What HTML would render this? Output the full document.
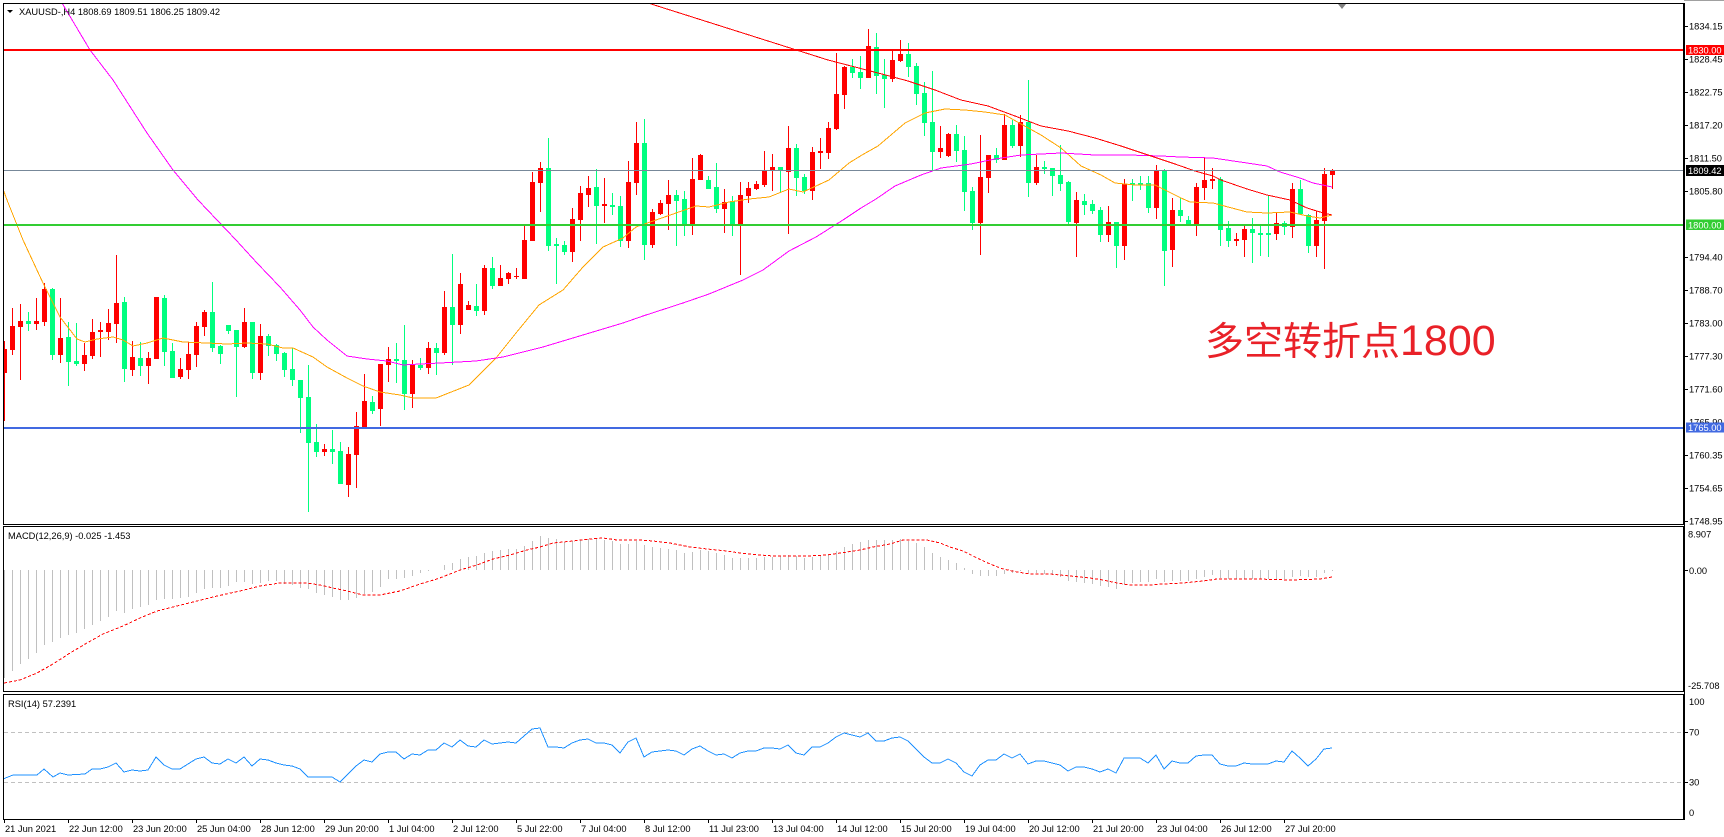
<!DOCTYPE html>
<html><head><meta charset="utf-8"><style>
html,body{margin:0;padding:0;background:#fff;}
svg{display:block;}
.t{font-family:"Liberation Sans","DejaVu Sans",sans-serif;font-size:9.3px;fill:#000;}
.w{font-family:"Liberation Sans","DejaVu Sans",sans-serif;font-size:9.3px;fill:#fff;}
</style></head><body>
<svg width="1724" height="837" viewBox="0 0 1724 837" xmlns="http://www.w3.org/2000/svg">
<defs>
<clipPath id="cm"><rect x="4" y="4" width="1680" height="520"/></clipPath>
<clipPath id="cd"><rect x="4" y="527" width="1680" height="165"/></clipPath>
<clipPath id="cr"><rect x="4" y="695" width="1680" height="125"/></clipPath>
</defs>
<rect width="1724" height="837" fill="#fff"/>
<line x1="1684" y1="0.5" x2="1724" y2="0.5" stroke="#a0a0a0"/>

<g clip-path="url(#cm)" shape-rendering="crispEdges">
<!-- red candles -->
<path fill="none" stroke="#ff0000" stroke-width="1" d="M4.5 341V421M12.5 308V355M20.5 304V380M36.5 298V330M44.5 283V326M60.5 298V363M84.5 343V371M92.5 319V359M100.5 322V357M108.5 309V340M116.5 255V343M132.5 341V376M148.5 352V384M156.5 297V359M180.5 358V379M188.5 342V379M196.5 322V367M204.5 310V336M244.5 308V348M260.5 324V380M324.5 444V456M348.5 447V497M356.5 412V488M364.5 374V428M380.5 364V426M388.5 347V382M412.5 360V408M428.5 342V374M444.5 291V355M460.5 273V334M468.5 301V310M484.5 265V315M500.5 265V286M508.5 272V284M516.5 268V279M524.5 226V279M532.5 172V241M540.5 162V212M572.5 208V262M580.5 186V241M588.5 176V207M604.5 178V223M628.5 161V248M636.5 122V195M652.5 209V248M660.5 200V215M668.5 180V230M692.5 158V235M700.5 154V180M724.5 189V233M740.5 182V275M748.5 182V203M756.5 181V190M764.5 151V187M772.5 154V191M788.5 126V234M812.5 147V200M820.5 138V169M828.5 122V159M836.5 53V130M844.5 66V109M868.5 29V78M892.5 51V82M900.5 40V62M940.5 126V158M948.5 133V157M980.5 135V255M988.5 155V193M1004.5 114V160M1020.5 115V157M1036.5 155V185M1076.5 192V257M1108.5 206V242M1124.5 179V260M1156.5 165V219M1172.5 198V267M1196.5 183V236M1204.5 158V200M1212.5 168V189M1236.5 233V246M1244.5 226V257M1276.5 212V240M1292.5 183V238M1316.5 211V257M1324.5 168V269M1332.5 169V189"/>
<path fill="#ff0000" d="M2 349h5v24h-5zM10 326h5v24h-5zM18 321h5v6h-5zM34 321h5v3h-5zM42 289h5v33h-5zM58 338h5v17h-5zM82 355h5v9h-5zM90 332h5v24h-5zM98 330h5v2h-5zM106 323h5v9h-5zM114 303h5v21h-5zM130 357h5v13h-5zM146 358h5v8h-5zM154 297h5v62h-5zM178 369h5v8h-5zM186 354h5v16h-5zM194 326h5v29h-5zM202 312h5v15h-5zM242 322h5v25h-5zM258 336h5v37h-5zM322 449h5v3h-5zM346 454h5v31h-5zM354 426h5v29h-5zM362 401h5v26h-5zM378 364h5v45h-5zM386 359h5v6h-5zM410 364h5v30h-5zM426 348h5v20h-5zM442 307h5v46h-5zM458 284h5v41h-5zM466 305h5v5h-5zM482 268h5v43h-5zM498 278h5v8h-5zM506 273h5v6h-5zM514 276h5v1h-5zM522 240h5v39h-5zM530 182h5v59h-5zM538 168h5v15h-5zM570 219h5v33h-5zM578 193h5v27h-5zM586 188h5v7h-5zM602 204h5v2h-5zM626 182h5v59h-5zM634 143h5v40h-5zM650 212h5v33h-5zM658 203h5v11h-5zM666 195h5v9h-5zM690 179h5v46h-5zM698 155h5v25h-5zM722 202h5v7h-5zM738 195h5v30h-5zM746 188h5v8h-5zM754 184h5v5h-5zM762 171h5v14h-5zM770 167h5v4h-5zM786 148h5v24h-5zM810 152h5v39h-5zM818 151h5v2h-5zM826 128h5v25h-5zM834 94h5v35h-5zM842 67h5v28h-5zM866 46h5v32h-5zM890 60h5v19h-5zM898 54h5v7h-5zM938 148h5v4h-5zM946 134h5v22h-5zM978 177h5v46h-5zM986 155h5v23h-5zM1002 125h5v35h-5zM1018 122h5v24h-5zM1034 167h5v16h-5zM1074 200h5v23h-5zM1106 222h5v13h-5zM1122 184h5v62h-5zM1154 171h5v37h-5zM1170 210h5v40h-5zM1194 187h5v37h-5zM1202 180h5v8h-5zM1210 179h5v2h-5zM1234 239h5v2h-5zM1242 229h5v11h-5zM1274 223h5v11h-5zM1290 189h5v38h-5zM1314 220h5v26h-5zM1322 174h5v47h-5zM1330 170h5v5h-5z"/>
<!-- green candles -->
<path fill="none" stroke="#00ff7f" stroke-width="1" d="M28.5 312V331M52.5 288V360M68.5 322V386M76.5 323V366M124.5 297V382M140.5 342V376M164.5 295V366M172.5 343V378M212.5 282V352M220.5 345V364M228.5 325V334M236.5 330V397M252.5 322V379M268.5 334V356M276.5 344V361M284.5 352V377M292.5 348V386M300.5 380V433M308.5 365V512M316.5 424V457M332.5 430V464M340.5 442V484M372.5 396V414M396.5 343V383M404.5 325V410M420.5 358V370M436.5 343V375M452.5 254V365M476.5 284V316M492.5 257V289M548.5 138V251M556.5 238V284M564.5 241V255M596.5 169V244M612.5 193V215M620.5 196V247M644.5 119V260M676.5 190V246M684.5 191V236M708.5 176V189M716.5 163V213M732.5 196V236M780.5 167V192M796.5 144V196M804.5 174V194M852.5 59V78M860.5 56V89M876.5 33V94M884.5 59V108M908.5 43V77M916.5 63V105M924.5 82V136M932.5 71V170M956.5 125V162M964.5 136V211M972.5 187V230M996.5 148V163M1012.5 120V148M1028.5 80V197M1044.5 161V174M1052.5 168V196M1060.5 145V191M1068.5 181V224M1084.5 194V215M1092.5 200V214M1100.5 207V242M1116.5 222V268M1132.5 179V201M1140.5 176V190M1148.5 176V213M1164.5 169V286M1180.5 198V222M1188.5 216V225M1220.5 177V246M1228.5 221V247M1252.5 218V263M1260.5 226V256M1268.5 195V257M1284.5 221V235M1300.5 180V215M1308.5 214V253"/>
<path fill="#00ff7f" d="M26 321h5v3h-5zM50 289h5v66h-5zM66 337h5v25h-5zM74 361h5v3h-5zM122 302h5v67h-5zM138 358h5v8h-5zM162 298h5v54h-5zM170 351h5v27h-5zM210 312h5v36h-5zM218 346h5v8h-5zM226 325h5v6h-5zM234 330h5v17h-5zM250 322h5v51h-5zM266 336h5v10h-5zM274 345h5v9h-5zM282 353h5v17h-5zM290 369h5v11h-5zM298 380h5v18h-5zM306 397h5v46h-5zM314 442h5v10h-5zM330 449h5v3h-5zM338 451h5v33h-5zM370 402h5v9h-5zM394 359h5v2h-5zM402 360h5v34h-5zM418 365h5v3h-5zM434 348h5v5h-5zM450 307h5v18h-5zM474 306h5v5h-5zM490 268h5v18h-5zM546 168h5v78h-5zM554 244h5v2h-5zM562 245h5v7h-5zM594 187h5v19h-5zM610 205h5v2h-5zM618 206h5v35h-5zM642 143h5v102h-5zM674 195h5v6h-5zM682 199h5v26h-5zM706 180h5v9h-5zM714 187h5v22h-5zM730 201h5v24h-5zM778 167h5v4h-5zM794 148h5v30h-5zM802 177h5v14h-5zM850 67h5v6h-5zM858 72h5v6h-5zM874 47h5v29h-5zM882 75h5v4h-5zM906 54h5v13h-5zM914 66h5v28h-5zM922 93h5v30h-5zM930 122h5v30h-5zM954 134h5v17h-5zM962 150h5v42h-5zM970 191h5v32h-5zM994 155h5v5h-5zM1010 125h5v21h-5zM1026 122h5v61h-5zM1042 167h5v2h-5zM1050 168h5v8h-5zM1058 175h5v9h-5zM1066 182h5v40h-5zM1082 201h5v4h-5zM1090 204h5v7h-5zM1098 210h5v25h-5zM1114 222h5v24h-5zM1130 183h5v2h-5zM1138 183h5v2h-5zM1146 183h5v25h-5zM1162 170h5v81h-5zM1178 210h5v6h-5zM1186 220h5v5h-5zM1218 179h5v51h-5zM1226 228h5v13h-5zM1250 229h5v4h-5zM1258 233h5v2h-5zM1266 233h5v2h-5zM1282 223h5v4h-5zM1298 189h5v25h-5zM1306 215h5v31h-5z"/>
<!-- moving averages -->
<polyline fill="none" stroke="#ffa500" stroke-width="1" points="3,189 7,200 23,240 43,283 60,317 77,339 85,342 97,339 113,337 123,340 133,346 147,343 163,338 183,342 207,343 227,344 247,343 267,344 283,348 293,348 313,357 327,367 347,378 363,386 380,392 400,395 413,398 436,398 469,385 496,358 516,333 539,305 563,290 583,267 603,247 623,238 636,227 656,220 676,213 696,206 709,207 729,202 749,199 769,197 789,189 803,192 829,180 849,163 862,155 878,146 905,123 925,113 945,109 965,110 985,112 1005,115 1021,124 1041,135 1061,148 1081,166 1101,175 1115,183 1135,185 1155,185 1165,190 1181,198 1190,202 1213,203 1247,212 1267,213 1290,212 1307,216 1320,218 1332,215"/>
<polyline fill="none" stroke="#ff00ff" stroke-width="1" points="62,3 90,50 113,80 147,133 173,170 198,200 236,240 257,263 280,287 300,310 313,327 327,340 347,356 367,359 387,361 403,365 420,364 440,363 476,361 503,357 543,347 583,335 623,323 643,316 683,303 709,294 743,280 763,270 789,251 816,237 843,220 861,208 876,199 895,186 921,175 941,168 971,164 995,159 1021,155 1061,153 1095,155 1128,155 1161,156 1180,157 1213,158 1247,163 1267,166 1280,172 1300,178 1313,183 1332,187"/>
<polyline fill="none" stroke="#ff0000" stroke-width="1" points="648,3 828,60 878,73 908,81 935,90 961,100 988,106 1015,116 1041,126 1068,131 1095,138 1121,146 1148,155 1175,164 1195,171 1213,176 1221,180 1247,189 1267,195 1290,200 1307,208 1320,212 1332,215"/>
<!-- horizontal levels -->
<rect x="3" y="49" width="1681" height="2" fill="#ff0000"/>
<rect x="3" y="170" width="1681" height="1" fill="#778899"/>
<rect x="3" y="224" width="1681" height="2" fill="#32cd32"/>
<rect x="3" y="427" width="1681" height="2" fill="#4169e1"/>
</g>

<!-- annotation -->
<text x="1205" y="355" font-family="'Noto Sans CJK SC','WenQuanYi Zen Hei',sans-serif" font-size="39" fill="#e92128">多空转折点<tspan font-family="'Liberation Sans',sans-serif" font-size="43">1800</tspan></text>

<!-- header -->
<polygon points="7,10 13,10 10,13" fill="#000"/>
<text class="t" x="19" y="15">XAUUSD-,H4  1808.69 1809.51 1806.25 1809.42</text>
<polygon points="1338,4 1346,4 1342,9" fill="#808080"/>

<!-- MACD panel -->
<g clip-path="url(#cd)" shape-rendering="crispEdges">
<path fill="none" stroke="#c0c0c0" stroke-width="1" d="M4.5 570V678M12.5 570V671M20.5 570V664M28.5 570V659M36.5 570V653M44.5 570V645M52.5 570V642M60.5 570V638M68.5 570V635M76.5 570V633M84.5 570V629M92.5 570V625M100.5 570V621M108.5 570V617M116.5 570V611M124.5 570V613M132.5 570V609M140.5 570V607M148.5 570V605M156.5 570V600M164.5 570V599M172.5 570V599M180.5 570V598M188.5 570V597M196.5 570V593M204.5 570V589M212.5 570V588M220.5 570V588M228.5 570V586M236.5 570V582M244.5 570V582M252.5 570V584M260.5 570V583M268.5 570V581M276.5 570V581M284.5 570V584M292.5 570V585M300.5 570V588M308.5 570V589M316.5 570V593M324.5 570V595M332.5 570V597M340.5 570V600M348.5 570V600M356.5 570V598M364.5 570V594M372.5 570V592M380.5 570V587M388.5 570V579M396.5 570V579M404.5 570V578M412.5 570V576M420.5 570V573M428.5 570V571M444.5 570V565M452.5 570V563M460.5 570V559M468.5 570V557M476.5 570V556M484.5 570V553M492.5 570V551M500.5 570V550M508.5 570V549M516.5 570V549M524.5 570V546M532.5 570V541M540.5 570V536M548.5 570V538M556.5 570V539M564.5 570V542M572.5 570V541M580.5 570V540M588.5 570V539M596.5 570V539M604.5 570V540M612.5 570V541M620.5 570V544M628.5 570V544M636.5 570V541M644.5 570V545M652.5 570V547M660.5 570V548M668.5 570V549M676.5 570V550M684.5 570V553M692.5 570V552M700.5 570V550M708.5 570V551M716.5 570V553M724.5 570V555M732.5 570V558M740.5 570V558M748.5 570V558M756.5 570V558M764.5 570V557M772.5 570V557M780.5 570V556M788.5 570V555M796.5 570V556M804.5 570V558M812.5 570V557M820.5 570V556M828.5 570V554M836.5 570V551M844.5 570V547M852.5 570V544M860.5 570V542M868.5 570V540M876.5 570V540M884.5 570V540M892.5 570V540M900.5 570V539M908.5 570V541M916.5 570V543M924.5 570V547M932.5 570V553M940.5 570V557M948.5 570V560M956.5 570V563M964.5 570V568M972.5 570V574M980.5 570V576M988.5 570V576M996.5 570V576M1004.5 570V574M1012.5 570V573M1020.5 570V571M1028.5 570V573M1036.5 570V573M1044.5 570V574M1052.5 570V575M1060.5 570V577M1068.5 570V581M1076.5 570V582M1084.5 570V583M1092.5 570V584M1100.5 570V586M1108.5 570V587M1116.5 570V589M1124.5 570V585M1132.5 570V583M1140.5 570V582M1148.5 570V582M1156.5 570V579M1164.5 570V582M1172.5 570V581M1180.5 570V581M1188.5 570V581M1196.5 570V579M1204.5 570V577M1212.5 570V575M1220.5 570V578M1228.5 570V579M1236.5 570V579M1244.5 570V579M1252.5 570V579M1260.5 570V579M1268.5 570V579M1276.5 570V579M1284.5 570V579M1292.5 570V577M1300.5 570V576M1308.5 570V577M1316.5 570V577M1324.5 570V573M1332.5 570V571"/>
<polyline fill="none" stroke="#ff0000" stroke-width="1" stroke-dasharray="3,2" points="4,683 20,680 37,673 53,664 70,653 87,643 103,634 123,626 140,618 157,611 177,606 197,601 217,596 240,591 260,586 280,583 307,583 320,585 333,588 347,591 363,595 380,595 400,591 420,584 437,579 450,574 460,570 477,565 493,559 510,555 527,550 540,547 553,543 573,541 590,539 603,538 617,540 640,540 653,541 670,543 690,547 707,549 727,551 740,553 760,555 773,556 807,556 827,555 847,552 860,550 873,547 890,544 903,540 927,540 940,543 950,547 963,551 977,558 990,564 1003,569 1017,572 1030,574 1050,574 1070,576 1090,578 1103,580 1117,583 1130,585 1150,585 1163,584 1183,583 1203,581 1217,579 1257,579 1290,580 1320,579 1332,577"/>
</g>
<text class="t" x="8" y="539">MACD(12,26,9) -0.025 -1.453</text>

<!-- RSI panel -->
<g clip-path="url(#cr)" shape-rendering="crispEdges">
<line x1="4" y1="732.5" x2="1684" y2="732.5" stroke="#c0c0c0" stroke-dasharray="4,3"/>
<line x1="4" y1="782.5" x2="1684" y2="782.5" stroke="#c0c0c0" stroke-dasharray="4,3"/>
<polyline fill="none" stroke="#1e90ff" stroke-width="1" points="3,779 13,775 37,775 44,769 53,777 60,773 68,775 85,774 92,769 100,769 108,767 116,763 124,772 132,770 140,771 148,770 156,757 164,765 172,769 180,769 188,764 196,759 204,757 212,763 220,764 228,759 236,763 244,757 252,766 260,759 268,760 276,763 284,765 292,766 300,769 308,777 316,777 324,777 332,777 340,782 348,774 356,766 364,760 372,762 380,754 388,752 396,752 404,759 412,754 420,755 428,750 436,750 444,743 452,747 460,740 468,746 476,747 484,740 492,744 500,743 508,742 516,743 524,736 532,729 540,728 548,747 556,747 564,748 572,743 580,740 588,739 596,743 604,743 612,745 620,753 628,742 636,738 644,757 652,752 660,751 668,750 676,751 684,755 692,749 700,746 708,751 716,755 724,754 732,758 740,753 748,751 756,751 764,748 772,748 780,749 788,745 796,753 804,755 812,747 820,747 828,743 836,737 844,733 852,735 860,737 868,733 876,741 884,741 892,738 900,737 908,741 916,749 924,757 932,763 940,763 948,759 956,763 964,772 972,776 980,765 988,760 996,760 1004,754 1012,758 1020,754 1028,764 1036,761 1044,761 1052,763 1060,765 1068,771 1076,767 1084,767 1092,769 1100,772 1108,769 1116,773 1124,758 1132,758 1140,758 1148,763 1156,755 1164,769 1172,761 1180,763 1188,763 1196,756 1204,755 1212,755 1220,764 1228,766 1236,766 1244,763 1252,764 1260,764 1268,764 1276,761 1284,762 1292,751 1300,758 1308,766 1316,759 1324,749 1332,748"/>
</g>
<text class="t" x="8" y="707">RSI(14) 57.2391</text>

<!-- frames -->
<g fill="none" stroke="#000" stroke-width="1" shape-rendering="crispEdges">
<rect x="3.5" y="3.5" width="1680" height="521"/>
<rect x="3.5" y="526.5" width="1680" height="165"/>
<rect x="3.5" y="694.5" width="1680" height="125"/>
<line x1="1684.5" y1="3" x2="1684.5" y2="820"/>
<!-- right axis ticks -->
<path d="M1685 26.5h3M1685 59.5h3M1685 92.5h3M1685 125.5h3M1685 158.5h3M1685 191.5h3M1685 257.5h3M1685 290.5h3M1685 323.5h3M1685 356.5h3M1685 389.5h3M1685 455.5h3M1685 488.5h3M1685 521.5h3M1685 570.5h3M1685 732.5h3M1685 782.5h3"/>
<!-- bottom ticks -->
<path d="M4.5 820v3M68.5 820v3M132.5 820v3M196.5 820v3M260.5 820v3M324.5 820v3M388.5 820v3M452.5 820v3M516.5 820v3M580.5 820v3M644.5 820v3M708.5 820v3M772.5 820v3M836.5 820v3M900.5 820v3M964.5 820v3M1028.5 820v3M1092.5 820v3M1156.5 820v3M1220.5 820v3M1284.5 820v3"/>
</g>

<!-- right axis labels -->
<g class="t">
<text class="t" x="1689" y="29.5">1834.15</text>
<text class="t" x="1689" y="62.5">1828.45</text>
<text class="t" x="1689" y="95.5">1822.75</text>
<text class="t" x="1689" y="128.5">1817.20</text>
<text class="t" x="1689" y="161.5">1811.50</text>
<text class="t" x="1689" y="194.5">1805.80</text>
<text class="t" x="1689" y="260.5">1794.40</text>
<text class="t" x="1689" y="293.5">1788.70</text>
<text class="t" x="1689" y="326.5">1783.00</text>
<text class="t" x="1689" y="359.5">1777.30</text>
<text class="t" x="1689" y="392.5">1771.60</text>
<text class="t" x="1689" y="425.5">1765.90</text>
<text class="t" x="1689" y="458.5">1760.35</text>
<text class="t" x="1689" y="491.5">1754.65</text>
<text class="t" x="1689" y="524.5">1748.95</text>
</g>
<rect x="1686" y="45" width="38" height="10" fill="#ff0000"/>
<text class="w" x="1688" y="53.5">1830.00</text>
<rect x="1686" y="165" width="38" height="11" fill="#000"/>
<text class="w" x="1688" y="174">1809.42</text>
<rect x="1686" y="219.5" width="38" height="10.5" fill="#32cd32"/>
<text class="w" x="1688" y="228.5">1800.00</text>
<rect x="1686" y="422.5" width="38" height="10" fill="#4169e1"/>
<text class="w" x="1688" y="431">1765.00</text>

<text class="t" x="1688" y="537.5">8.907</text>
<text class="t" x="1689" y="574">0.00</text>
<text class="t" x="1688" y="689">-25.708</text>
<text class="t" x="1689" y="705">100</text>
<text class="t" x="1689" y="735.7">70</text>
<text class="t" x="1689" y="785.7">30</text>
<text class="t" x="1689" y="816">0</text>

<!-- date labels -->
<text class="t" x="5" y="832">21 Jun 2021</text>
<text class="t" x="69" y="832">22 Jun 12:00</text>
<text class="t" x="133" y="832">23 Jun 20:00</text>
<text class="t" x="197" y="832">25 Jun 04:00</text>
<text class="t" x="261" y="832">28 Jun 12:00</text>
<text class="t" x="325" y="832">29 Jun 20:00</text>
<text class="t" x="389" y="832">1 Jul 04:00</text>
<text class="t" x="453" y="832">2 Jul 12:00</text>
<text class="t" x="517" y="832">5 Jul 22:00</text>
<text class="t" x="581" y="832">7 Jul 04:00</text>
<text class="t" x="645" y="832">8 Jul 12:00</text>
<text class="t" x="709" y="832">11 Jul 23:00</text>
<text class="t" x="773" y="832">13 Jul 04:00</text>
<text class="t" x="837" y="832">14 Jul 12:00</text>
<text class="t" x="901" y="832">15 Jul 20:00</text>
<text class="t" x="965" y="832">19 Jul 04:00</text>
<text class="t" x="1029" y="832">20 Jul 12:00</text>
<text class="t" x="1093" y="832">21 Jul 20:00</text>
<text class="t" x="1157" y="832">23 Jul 04:00</text>
<text class="t" x="1221" y="832">26 Jul 12:00</text>
<text class="t" x="1285" y="832">27 Jul 20:00</text>
</svg>
</body></html>
